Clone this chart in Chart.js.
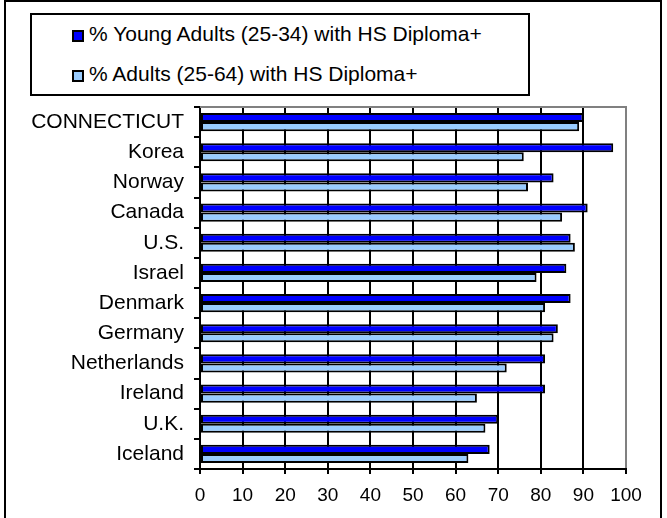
<!DOCTYPE html>
<html><head><meta charset="utf-8">
<script src="https://cdn.jsdelivr.net/npm/chart.js@4/dist/chart.umd.min.js"></script>
<style>
html,body{margin:0;padding:0;background:#fff;overflow:hidden;}
#wrap{position:relative;width:667px;height:518px;overflow:hidden;}
#frame{position:absolute;left:4px;top:0;width:658px;height:600px;border:2px solid #000;box-sizing:border-box;}
#c{position:absolute;left:0;top:0;}
#legend{position:absolute;left:30px;top:13px;width:500px;height:83px;border:2px solid #000;box-sizing:border-box;font-family:"Liberation Sans",Arial,sans-serif;font-size:21px;color:#000;background:#fff;}
.item{position:absolute;left:40px;height:24px;line-height:24px;white-space:nowrap;}
.box{display:inline-block;width:8px;height:8px;border:2px solid #000;vertical-align:-1px;margin-right:5px;}
</style>
</head><body>
<div id="wrap">
<div id="frame"></div>
<canvas id="c" width="667" height="518"></canvas>
<div id="legend"></div>
</div>
<script>
const categories = ['CONNECTICUT','Korea','Norway','Canada','U.S.','Israel','Denmark','Germany','Netherlands','Ireland','U.K.','Iceland'];
const youngAdults = [90, 97, 83, 91, 87, 86, 87, 84, 81, 81, 70, 68];
const allAdults   = [89, 76, 77, 85, 88, 79, 81, 83, 72, 65, 67, 63];
const seriesNames = ['% Young Adults (25-34) with HS Diploma+', '% Adults (25-64) with HS Diploma+'];
const seriesColors = ['#0000FF', '#99CCFF'];
const xTickValues = [0,10,20,30,40,50,60,70,80,90,100];

const FONT = '"Liberation Sans", Arial, sans-serif';

const plotBorder = {
  id: 'plotBorder',
  beforeDatasetsDraw(chart) {
    const {ctx, chartArea: a} = chart;
    ctx.save();
    ctx.strokeStyle = '#808080';
    ctx.lineWidth = 2;
    ctx.beginPath();
    ctx.moveTo(a.left, a.top);
    ctx.lineTo(a.right + 1, a.top);
    ctx.stroke();
    ctx.restore();
  }
};

const chart = new Chart(document.getElementById('c'), {
  type: 'bar',
  data: {
    labels: categories,
    datasets: [
      {label: seriesNames[0], data: youngAdults, backgroundColor: seriesColors[0], borderColor: '#000', borderWidth: 2, borderSkipped: false, categoryPercentage: 0.6, barPercentage: 1.0},
      {label: seriesNames[1], data: allAdults, backgroundColor: seriesColors[1], borderColor: '#000', borderWidth: 2, borderSkipped: false, categoryPercentage: 0.6, barPercentage: 1.0}
    ]
  },
  options: {
    indexAxis: 'y',
    responsive: false,
    animation: false,
    devicePixelRatio: 1,
    layout: {padding: {left: 0, top: 107, right: 41, bottom: 0}},
    plugins: {legend: {display: false}, tooltip: {enabled: false}},
    scales: {
      x: {
        type: 'linear', min: 0, max: 100, position: 'bottom',
        afterBuildTicks: s => { s.ticks = xTickValues.map(v => ({value: v})); },
        afterFit: s => { s.height = 49; },
        ticks: {font: {family: FONT, size: 19}, color: '#000', padding: 10, maxRotation: 0, autoSkip: false},
        grid: {
          color: ctx => (ctx.tick && ctx.tick.value === 100) ? '#808080' : '#000',
          lineWidth: 2, drawTicks: true, tickLength: 5, tickColor: '#000', tickWidth: 2
        },
        border: {display: true, color: '#000', width: 2}
      },
      y: {
        type: 'category', position: 'left', offset: true,
        afterFit: s => { s.width = 200; },
        ticks: {font: {family: FONT, size: 21}, color: '#000', padding: 10, autoSkip: false},
        grid: {offset: true, drawOnChartArea: false, drawTicks: true, tickLength: 6, color: '#000', lineWidth: 2},
        border: {display: true, color: '#000', width: 2}
      }
    }
  },
  plugins: [plotBorder]
});

// Legend built from the chart's datasets
const legend = document.getElementById('legend');
const tops = [7, 47];
chart.data.datasets.forEach((ds, i) => {
  const d = document.createElement('div');
  d.className = 'item';
  d.style.top = tops[i] + 'px';
  const b = document.createElement('span');
  b.className = 'box';
  b.style.background = ds.backgroundColor;
  d.appendChild(b);
  d.appendChild(document.createTextNode(ds.label));
  legend.appendChild(d);
});
</script>
</body></html>
